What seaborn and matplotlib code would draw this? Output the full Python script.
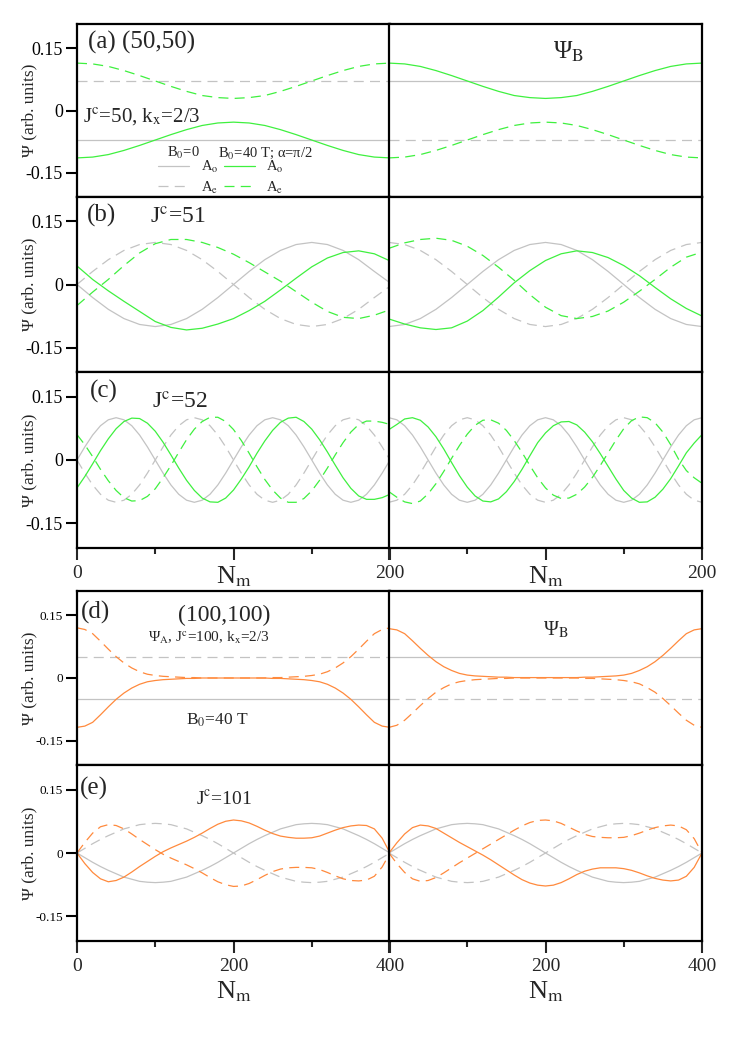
import matplotlib.pyplot as plt
import seaborn as sns

sns.set_theme(style="ticks")
plt.rcParams['font.family'] = ['Liberation Serif', 'DejaVu Serif']
plt.rcParams['mathtext.fontset'] = 'stix'

GRAY = '#c3c3c3'
GREEN = '#3ff03f'
ORANGE = '#ff8a3d'

# ---------------- sample positions ----------------
n_flat200 = [0, 200]
n_flat400 = [0, 400]
n_ab = list(range(0, 201, 10))
n_c = list(range(0, 201, 5))
n_de = list(range(0, 401, 10))

# ---------------- (a) (50,50), Jc=50 ----------------
a_L_gray_o = [-0.070, -0.070]
a_L_gray_e = [0.071, 0.071]
a_L_green_o = [-0.114, -0.112, -0.106, -0.096, -0.084, -0.071, -0.058, -0.046, -0.036, -0.030, -0.028,
               -0.030, -0.036, -0.046, -0.058, -0.071, -0.084, -0.096, -0.106, -0.112, -0.114]
a_L_green_e = [0.114, 0.112, 0.106, 0.096, 0.084, 0.071, 0.058, 0.046, 0.036, 0.031, 0.029,
               0.031, 0.036, 0.046, 0.058, 0.071, 0.084, 0.096, 0.106, 0.112, 0.114]
a_R_gray_o = [0.071, 0.071]
a_R_gray_e = [-0.070, -0.070]
a_R_green_o = [0.114, 0.112, 0.106, 0.096, 0.084, 0.071, 0.058, 0.046, 0.036, 0.031, 0.029,
               0.031, 0.036, 0.046, 0.058, 0.071, 0.084, 0.096, 0.106, 0.112, 0.114]
a_R_green_e = [-0.114, -0.112, -0.106, -0.096, -0.084, -0.071, -0.058, -0.046, -0.036, -0.030, -0.028,
               -0.030, -0.036, -0.046, -0.058, -0.071, -0.084, -0.096, -0.106, -0.112, -0.114]

# ---------------- (b) Jc=51 ----------------
b_L_gray_o = [0.000, -0.031, -0.059, -0.081, -0.095, -0.100, -0.095, -0.081, -0.059, -0.031, 0.000,
              0.031, 0.059, 0.081, 0.095, 0.100, 0.095, 0.081, 0.059, 0.031, 0.004]
b_L_gray_e = [0.000, 0.031, 0.059, 0.081, 0.095, 0.100, 0.095, 0.081, 0.059, 0.031, 0.000,
              -0.031, -0.059, -0.081, -0.095, -0.100, -0.095, -0.081, -0.059, -0.031, -0.004]
b_L_green_o = [0.044, 0.012, -0.015, -0.040, -0.064, -0.088, -0.102, -0.108, -0.104, -0.094, -0.081,
               -0.062, -0.040, -0.013, 0.015, 0.042, 0.063, 0.076, 0.080, 0.073, 0.056]
b_L_green_e = [-0.050, -0.018, 0.012, 0.045, 0.075, 0.097, 0.107, 0.107, 0.100, 0.088, 0.072,
               0.052, 0.030, 0.008, -0.017, -0.042, -0.064, -0.078, -0.081, -0.073, -0.060]
b_R_gray_o = [-0.100, -0.095, -0.081, -0.059, -0.031, 0.000, 0.031, 0.059, 0.081, 0.095, 0.100,
              0.095, 0.081, 0.059, 0.031, 0.000, -0.031, -0.059, -0.081, -0.095, -0.100]
b_R_gray_e = [0.100, 0.095, 0.081, 0.059, 0.031, 0.000, -0.031, -0.059, -0.081, -0.095, -0.100,
              -0.095, -0.081, -0.059, -0.031, 0.000, 0.031, 0.059, 0.081, 0.095, 0.100]
b_R_green_o = [-0.082, -0.094, -0.103, -0.107, -0.103, -0.087, -0.062, -0.030, 0.004, 0.033, 0.057,
               0.073, 0.080, 0.076, 0.064, 0.045, 0.021, -0.007, -0.034, -0.057, -0.075]
b_R_green_e = [0.086, 0.099, 0.107, 0.110, 0.105, 0.091, 0.069, 0.041, 0.010, -0.024, -0.054,
               -0.074, -0.081, -0.076, -0.063, -0.042, -0.016, 0.012, 0.041, 0.065, 0.077]

# ---------------- (c) Jc=52 ----------------
c_L_gray_o = [0.000, 0.031, 0.059, 0.081, 0.095, 0.100, 0.095, 0.081, 0.059, 0.031,
              0.000, -0.031, -0.059, -0.081, -0.095, -0.100, -0.095, -0.081, -0.059, -0.031,
              0.000, 0.031, 0.059, 0.081, 0.095, 0.100, 0.095, 0.081, 0.059, 0.031,
              0.000, -0.031, -0.059, -0.081, -0.095, -0.100, -0.095, -0.081, -0.059, -0.031, 0.000]
c_L_gray_e = [0.000, -0.031, -0.059, -0.081, -0.095, -0.100, -0.095, -0.081, -0.059, -0.031,
              0.000, 0.031, 0.059, 0.081, 0.095, 0.100, 0.095, 0.081, 0.059, 0.031,
              0.000, -0.031, -0.059, -0.081, -0.095, -0.100, -0.095, -0.081, -0.059, -0.031,
              0.000, 0.031, 0.059, 0.081, 0.095, 0.100, 0.095, 0.081, 0.059, 0.031, 0.000]
c_L_green_o = [-0.066, -0.039, -0.009, 0.022, 0.050, 0.074, 0.091, 0.099, 0.098, 0.087,
               0.068, 0.042, 0.012, -0.019, -0.048, -0.072, -0.090, -0.099, -0.100, -0.090,
               -0.071, -0.045, -0.016, 0.016, 0.045, 0.070, 0.089, 0.099, 0.101, 0.091,
               0.073, 0.048, 0.019, -0.012, -0.042, -0.067, -0.085, -0.093, -0.093, -0.089, -0.081]
c_L_green_e = [0.060, 0.036, 0.008, -0.022, -0.049, -0.072, -0.089, -0.097, -0.096, -0.086,
               -0.068, -0.042, -0.013, 0.018, 0.048, 0.073, 0.091, 0.101, 0.101, 0.091,
               0.072, 0.046, 0.016, -0.016, -0.046, -0.071, -0.090, -0.100, -0.100, -0.091,
               -0.073, -0.048, -0.019, 0.012, 0.041, 0.066, 0.084, 0.092, 0.092, 0.089, 0.084]
c_R_gray_o = [0.100, 0.095, 0.081, 0.059, 0.031, 0.000, -0.031, -0.059, -0.081, -0.095,
              -0.100, -0.095, -0.081, -0.059, -0.031, 0.000, 0.031, 0.059, 0.081, 0.095,
              0.100, 0.095, 0.081, 0.059, 0.031, 0.000, -0.031, -0.059, -0.081, -0.095,
              -0.100, -0.095, -0.081, -0.059, -0.031, 0.000, 0.031, 0.059, 0.081, 0.095, 0.100]
c_R_gray_e = [-0.100, -0.095, -0.081, -0.059, -0.031, 0.000, 0.031, 0.059, 0.081, 0.095,
              0.100, 0.095, 0.081, 0.059, 0.031, 0.000, -0.031, -0.059, -0.081, -0.095,
              -0.100, -0.095, -0.081, -0.059, -0.031, 0.000, 0.031, 0.059, 0.081, 0.095,
              0.100, 0.095, 0.081, 0.059, 0.031, 0.000, -0.031, -0.059, -0.081, -0.095, -0.100]
c_R_green_o = [0.072, 0.084, 0.097, 0.100, 0.094, 0.078, 0.055, 0.026, -0.006, -0.037,
               -0.064, -0.085, -0.097, -0.099, -0.092, -0.075, -0.051, -0.022, 0.010, 0.041,
               0.064, 0.081, 0.090, 0.091, 0.083, 0.066, 0.043, 0.015, -0.015, -0.045,
               -0.072, -0.090, -0.100, -0.099, -0.088, -0.069, -0.044, -0.014, 0.017, 0.040, 0.060]
c_R_green_e = [-0.075, -0.088, -0.099, -0.103, -0.097, -0.080, -0.056, -0.027, 0.004, 0.034,
               0.061, 0.082, 0.094, 0.095, 0.087, 0.070, 0.046, 0.018, -0.013, -0.042,
               -0.066, -0.083, -0.091, -0.090, -0.081, -0.064, -0.041, -0.013, 0.017, 0.047,
               0.074, 0.093, 0.102, 0.100, 0.088, 0.066, 0.036, 0.002, -0.025, -0.042, -0.055]

# ---------------- (d) (100,100), Jc=100 ----------------
d_L_gray_o = [-0.050, -0.050]
d_L_gray_e = [0.050, 0.050]
d_L_orange_o = [-0.118, -0.115, -0.106, -0.088, -0.069, -0.051, -0.036, -0.024, -0.015, -0.009, -0.006,
                -0.004, -0.003, -0.002, -0.001, -0.001, 0.000, 0.000, 0.000, 0.000, 0.000,
                0.000, 0.000, 0.000, 0.000, -0.001, -0.001, -0.002, -0.003, -0.004, -0.006,
                -0.009, -0.015, -0.024, -0.036, -0.051, -0.069, -0.088, -0.106, -0.115, -0.118]
d_L_orange_e = [0.120, 0.116, 0.106, 0.088, 0.069, 0.051, 0.036, 0.024, 0.015, 0.009, 0.006,
                0.004, 0.003, 0.002, 0.001, 0.001, 0.000, 0.000, 0.000, 0.000, 0.000,
                0.000, 0.000, 0.000, 0.000, 0.001, 0.001, 0.002, 0.003, 0.004, 0.006,
                0.009, 0.015, 0.024, 0.036, 0.051, 0.069, 0.088, 0.106, 0.116, 0.120]
d_R_gray_o = [0.050, 0.050]
d_R_gray_e = [-0.050, -0.050]
d_R_orange_o = [0.118, 0.115, 0.106, 0.089, 0.071, 0.054, 0.039, 0.027, 0.018, 0.011, 0.007,
                0.005, 0.004, 0.003, 0.002, 0.002, 0.001, 0.001, 0.001, 0.001, 0.001,
                0.001, 0.001, 0.001, 0.001, 0.002, 0.002, 0.003, 0.004, 0.005, 0.007,
                0.011, 0.018, 0.027, 0.039, 0.054, 0.071, 0.089, 0.106, 0.115, 0.118]
d_R_orange_e = [-0.118, -0.113, -0.101, -0.084, -0.066, -0.049, -0.034, -0.023, -0.014, -0.009, -0.006,
                -0.004, -0.003, -0.002, -0.001, -0.001, 0.000, 0.000, 0.000, 0.000, 0.000,
                0.000, 0.000, 0.000, 0.000, -0.001, -0.001, -0.002, -0.003, -0.004, -0.006,
                -0.009, -0.014, -0.023, -0.034, -0.049, -0.066, -0.084, -0.101, -0.113, -0.118]

# ---------------- (e) Jc=101 ----------------
e_L_gray_o = [0.000, -0.011, -0.022, -0.032, -0.041, -0.049, -0.057, -0.062, -0.067, -0.069, -0.070,
              -0.069, -0.067, -0.062, -0.057, -0.049, -0.041, -0.032, -0.022, -0.011, 0.000,
              0.011, 0.022, 0.032, 0.041, 0.049, 0.057, 0.062, 0.067, 0.069, 0.070,
              0.069, 0.067, 0.062, 0.057, 0.049, 0.041, 0.032, 0.022, 0.011, 0.000]
e_L_gray_e = [0.000, 0.011, 0.022, 0.032, 0.041, 0.049, 0.057, 0.062, 0.067, 0.069, 0.070,
              0.069, 0.067, 0.062, 0.057, 0.049, 0.041, 0.032, 0.022, 0.011, 0.000,
              -0.011, -0.022, -0.032, -0.041, -0.049, -0.057, -0.062, -0.067, -0.069, -0.070,
              -0.069, -0.067, -0.062, -0.057, -0.049, -0.041, -0.032, -0.022, -0.011, 0.000]
e_L_orange_o = [0.000, -0.025, -0.046, -0.061, -0.068, -0.065, -0.057, -0.045, -0.032, -0.020, -0.008,
                0.003, 0.012, 0.020, 0.028, 0.037, 0.047, 0.058, 0.068, 0.075, 0.078,
                0.076, 0.071, 0.063, 0.054, 0.046, 0.040, 0.037, 0.035, 0.035, 0.036,
                0.040, 0.047, 0.054, 0.060, 0.064, 0.066, 0.065, 0.057, 0.035, 0.000]
e_L_orange_e = [0.000, 0.025, 0.047, 0.062, 0.067, 0.065, 0.057, 0.045, 0.032, 0.020, 0.008,
                -0.003, -0.012, -0.020, -0.028, -0.037, -0.047, -0.058, -0.068, -0.075, -0.079,
                -0.078, -0.072, -0.063, -0.053, -0.044, -0.038, -0.035, -0.034, -0.034, -0.035,
                -0.039, -0.046, -0.054, -0.061, -0.065, -0.066, -0.064, -0.055, -0.033, 0.000]
e_R_gray_o = [0.000, 0.011, 0.022, 0.032, 0.041, 0.049, 0.057, 0.062, 0.067, 0.069, 0.070,
              0.069, 0.067, 0.062, 0.057, 0.049, 0.041, 0.032, 0.022, 0.011, 0.000,
              -0.011, -0.022, -0.032, -0.041, -0.049, -0.057, -0.062, -0.067, -0.069, -0.070,
              -0.069, -0.067, -0.062, -0.057, -0.049, -0.041, -0.032, -0.022, -0.011, 0.000]
e_R_gray_e = [0.000, -0.011, -0.022, -0.032, -0.041, -0.049, -0.057, -0.062, -0.067, -0.069, -0.070,
              -0.069, -0.067, -0.062, -0.057, -0.049, -0.041, -0.032, -0.022, -0.011, 0.000,
              0.011, 0.022, 0.032, 0.041, 0.049, 0.057, 0.062, 0.067, 0.069, 0.070,
              0.069, 0.067, 0.062, 0.057, 0.049, 0.041, 0.032, 0.022, 0.011, 0.000]
e_R_orange_o = [0.000, 0.024, 0.045, 0.060, 0.066, 0.064, 0.058, 0.047, 0.036, 0.025, 0.015,
                0.005, -0.005, -0.016, -0.028, -0.040, -0.052, -0.063, -0.071, -0.076, -0.078,
                -0.076, -0.070, -0.061, -0.051, -0.043, -0.038, -0.035, -0.035, -0.035, -0.037,
                -0.041, -0.047, -0.054, -0.060, -0.064, -0.066, -0.064, -0.055, -0.034, 0.000]
e_R_orange_e = [0.000, -0.025, -0.046, -0.061, -0.067, -0.065, -0.058, -0.047, -0.035, -0.023, -0.012,
                -0.001, 0.010, 0.021, 0.032, 0.043, 0.054, 0.064, 0.072, 0.077, 0.078,
                0.076, 0.070, 0.061, 0.052, 0.044, 0.039, 0.037, 0.036, 0.036, 0.037,
                0.041, 0.047, 0.054, 0.060, 0.064, 0.066, 0.064, 0.055, 0.034, 0.000]

DASH = (0, (8, 5))
W, H = 748, 1058


def make_axes(fig, x0, top, bottom, width=313):
    return fig.add_axes([x0 / W, 1 - bottom / H, width / W, (bottom - top) / H])


def curve(ax, x, y, color, dashed=False):
    sns.lineplot(x=x, y=y, ax=ax, color=color, lw=0.9, errorbar=None,
                 linestyle=DASH if dashed else '-')
    return ax.lines[-1]


def style(ax, xmax, left, bottom, ytick_size, xlabels=None, xlabel_y=-0.1, ylabel_size=12.5):
    ax.set_xlim(0, xmax)
    ax.set_ylim(-0.208, 0.208)
    for sp in ax.spines.values():
        sp.set_linewidth(1.6)
        sp.set_color('black')
    ax.set_xlabel('')
    ax.set_ylabel('')
    if left:
        ax.set_yticks([-0.15, 0, 0.15])
        ax.set_yticklabels(['-0.15', '0', '0.15'], fontsize=ytick_size)
        ax.tick_params(axis='y', direction='out', length=8, width=1.5, pad=2, colors='black')
        ax.set_ylabel('Ψ (arb. units)', fontsize=ylabel_size)
        ax.yaxis.set_label_coords(-0.125, 0.5)
    else:
        ax.set_yticks([])
    if bottom:
        ax.set_xticks([0, xmax / 2, xmax])
        ax.set_xticklabels(xlabels, fontsize=14)
        ax.set_xticks([xmax / 4, 3 * xmax / 4], minor=True)
        ax.tick_params(axis='x', which='major', direction='out', length=8.5, width=1.5, pad=4)
        ax.tick_params(axis='x', which='minor', direction='out', length=4.3, width=1.5)
        ax.set_xlabel('N$_{\\rm m}$', fontsize=19)
        ax.xaxis.set_label_coords(0.5, xlabel_y)
    else:
        ax.set_xticks([])


fig = plt.figure(figsize=(W / 100, H / 100), dpi=100)

# ---- upper block ----
axaL = make_axes(fig, 77, 24, 197)
axaR = make_axes(fig, 389, 24, 197)
axbL = make_axes(fig, 77, 197, 372)
axbR = make_axes(fig, 389, 197, 372)
axcL = make_axes(fig, 77, 372, 548)
axcR = make_axes(fig, 389, 372, 548)
axdL = make_axes(fig, 77, 591, 765)
axdR = make_axes(fig, 389, 591, 765)
axeL = make_axes(fig, 77, 765, 941)
axeR = make_axes(fig, 389, 765, 941)

# (a)
h1 = curve(axaL, n_flat200, a_L_gray_o, GRAY)
h2 = curve(axaL, n_flat200, a_L_gray_e, GRAY, True)
h3 = curve(axaL, n_ab, a_L_green_o, GREEN)
h4 = curve(axaL, n_ab, a_L_green_e, GREEN, True)
curve(axaR, n_flat200, a_R_gray_o, GRAY)
curve(axaR, n_flat200, a_R_gray_e, GRAY, True)
curve(axaR, n_ab, a_R_green_o, GREEN)
curve(axaR, n_ab, a_R_green_e, GREEN, True)

# (b)
curve(axbL, n_ab, b_L_gray_o, GRAY)
curve(axbL, n_ab, b_L_gray_e, GRAY, True)
curve(axbL, n_ab, b_L_green_o, GREEN)
curve(axbL, n_ab, b_L_green_e, GREEN, True)
curve(axbR, n_ab, b_R_gray_o, GRAY)
curve(axbR, n_ab, b_R_gray_e, GRAY, True)
curve(axbR, n_ab, b_R_green_o, GREEN)
curve(axbR, n_ab, b_R_green_e, GREEN, True)

# (c)
curve(axcL, n_c, c_L_gray_o, GRAY)
curve(axcL, n_c, c_L_gray_e, GRAY, True)
curve(axcL, n_c, c_L_green_o, GREEN)
curve(axcL, n_c, c_L_green_e, GREEN, True)
curve(axcR, n_c, c_R_gray_o, GRAY)
curve(axcR, n_c, c_R_gray_e, GRAY, True)
curve(axcR, n_c, c_R_green_o, GREEN)
curve(axcR, n_c, c_R_green_e, GREEN, True)

# (d)
curve(axdL, n_flat400, d_L_gray_o, GRAY)
curve(axdL, n_flat400, d_L_gray_e, GRAY, True)
curve(axdL, n_de, d_L_orange_o, ORANGE)
curve(axdL, n_de, d_L_orange_e, ORANGE, True)
curve(axdR, n_flat400, d_R_gray_o, GRAY)
curve(axdR, n_flat400, d_R_gray_e, GRAY, True)
curve(axdR, n_de, d_R_orange_o, ORANGE)
curve(axdR, n_de, d_R_orange_e, ORANGE, True)

# (e)
curve(axeL, n_de, e_L_gray_o, GRAY)
curve(axeL, n_de, e_L_gray_e, GRAY, True)
curve(axeL, n_de, e_L_orange_o, ORANGE)
curve(axeL, n_de, e_L_orange_e, ORANGE, True)
curve(axeR, n_de, e_R_gray_o, GRAY)
curve(axeR, n_de, e_R_gray_e, GRAY, True)
curve(axeR, n_de, e_R_orange_o, ORANGE)
curve(axeR, n_de, e_R_orange_e, ORANGE, True)

# axes styling
style(axaL, 200, True, False, 13)
style(axaR, 200, False, False, 13)
style(axbL, 200, True, False, 13)
style(axbR, 200, False, False, 13)
style(axcL, 200, True, True, 13, ['0', '', '200'], -0.095)
style(axcR, 200, False, True, 13, ['', '', '200'], -0.095)
style(axdL, 400, True, False, 9.5)
style(axdR, 400, False, False, 9.5)
style(axeL, 400, True, True, 9.5, ['0', '200', '400'], -0.22)
style(axeR, 400, False, True, 9.5, ['', '200', '400'], -0.22)

# legend in (a)
axaL.legend(handles=[h1, h2, h3, h4],
            labels=['A$_{\\rm o}$', 'A$_{\\rm e}$', 'A$_{\\rm o}$', 'A$_{\\rm e}$'],
            ncol=2, loc='lower left', bbox_to_anchor=(0.255, 0.0), frameon=False,
            fontsize=10.5, handlelength=2.1, handletextpad=0.8, columnspacing=0.4,
            labelspacing=0.3, borderpad=0, borderaxespad=0.1)
axaL.text(0.288, 0.254, 'B$_0$=0', transform=axaL.transAxes, fontsize=10.5, va='center')
axaL.text(0.45, 0.254, 'B$_0$=40 T; α=π/2', transform=axaL.transAxes, fontsize=10.5, va='center')

# panel texts
axaL.text(0.035, 0.895, '(a) (50,50)', transform=axaL.transAxes, fontsize=18, va='center')
axaL.text(0.02, 0.457, 'J$^{\\rm c}$=50, k$_{\\rm x}$=2/3', transform=axaL.transAxes,
          fontsize=15, va='center')
axaR.text(0.524, 0.84, 'Ψ$_{\\rm B}$', transform=axaR.transAxes, fontsize=18, va='center')

axbL.text(0.033, 0.897, '(b)', transform=axbL.transAxes, fontsize=18, va='center')
axbL.text(0.233, 0.88, 'J$^{\\rm c}$=51', transform=axbL.transAxes, fontsize=17, va='center')

axcL.text(0.042, 0.888, '(c)', transform=axcL.transAxes, fontsize=18, va='center')
axcL.text(0.239, 0.824, 'J$^{\\rm c}$=52', transform=axcL.transAxes, fontsize=17, va='center')

axdL.text(0.013, 0.874, '(d)', transform=axdL.transAxes, fontsize=18, va='center')
axdL.text(0.47, 0.862, '(100,100)', transform=axdL.transAxes, fontsize=17, ha='center', va='center')
axdL.text(0.422, 0.735, 'Ψ$_{\\rm A}$, J$^{\\rm c}$=100, k$_{\\rm x}$=2/3', transform=axdL.transAxes,
          fontsize=11, ha='center', va='center')
axdL.text(0.449, 0.259, 'B$_0$=40 T', transform=axdL.transAxes, fontsize=12.5, ha='center', va='center')
axdR.text(0.492, 0.776, 'Ψ$_{\\rm B}$', transform=axdR.transAxes, fontsize=14.5, va='center')

axeL.text(0.01, 0.864, '(e)', transform=axeL.transAxes, fontsize=18, va='center')
axeL.text(0.47, 0.81, 'J$^{\\rm c}$=101', transform=axeL.transAxes, fontsize=14, ha='center', va='center')

fig.savefig('out.png', dpi=100, facecolor='white')
